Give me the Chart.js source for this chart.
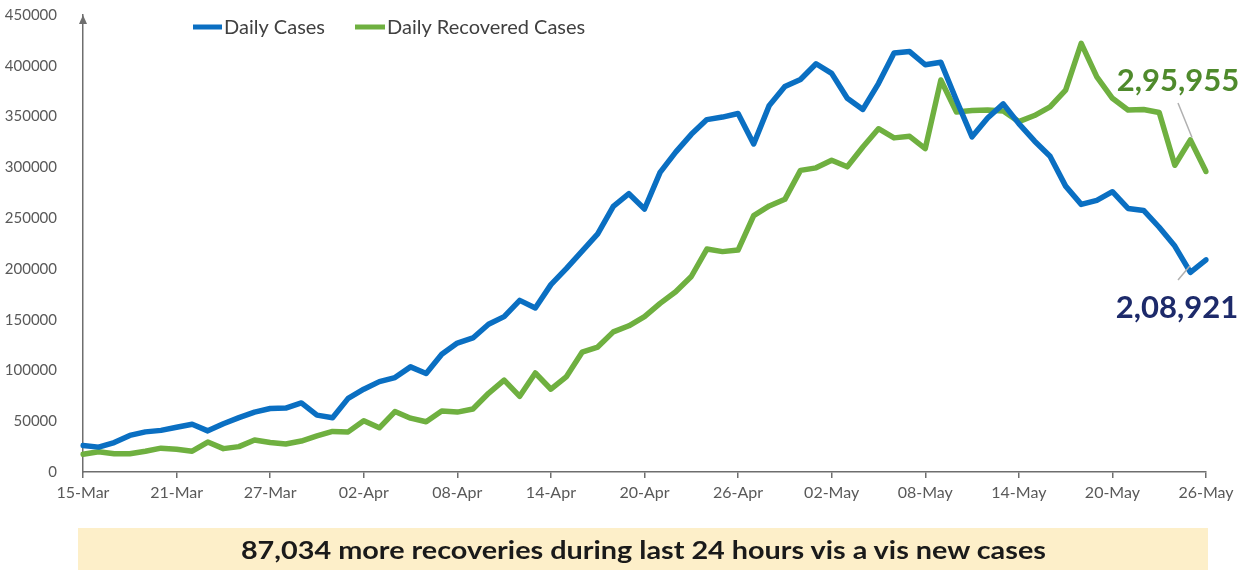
<!DOCTYPE html>
<html>
<head>
<meta charset="utf-8">
<script src="https://cdn.jsdelivr.net/npm/chart.js@4"></script>
<style>
  html, body { margin: 0; padding: 0; background: #fff; }
  #wrap { position: relative; width: 1254px; height: 572px; }
  #banner {
    position: absolute; left: 78px; top: 528px; width: 1130px; height: 42px;
    background: #fdefc9; font-family: Lato, sans-serif; font-weight: bold;
    font-size: 24px; color: #1a1a1a; text-align: center; line-height: 44px;
  }
  #banner span { display: inline-block; transform: scaleX(1.2); }
</style>
</head>
<body>
<div id="wrap">
  <canvas id="myChart" width="1254" height="572"></canvas>
  <div id="banner"><span>87,034 more recoveries during last 24 hours vis a vis new cases</span></div>
</div>
<script>
// dates 15-Mar .. 26-May
const months = [['Mar', 15, 31], ['Apr', 1, 30], ['May', 1, 26]];
const labels = [];
months.forEach(([m, from, to]) => {
    for (let d = from; d <= to; d++) labels.push(String(d).padStart(2, '0') + '-' + m);
});

// Daily Cases
const dailyCases = [
    26000, 24500, 29000, 36000, 39500, 41000, 44000, 47000, 40500, 47500, 53500, 59000, 62500, 63000, 68000, 56000, 53500,
    72500, 81500, 89000, 93000, 103500, 97000, 116000, 127000, 132000, 145500, 153000, 169000, 161500, 184500,
    200500, 217500, 234500, 261500, 274000, 259000, 295000, 315000, 332500, 347000, 349500, 353000, 323000, 361000, 379500, 386500,
    402000, 392500, 368000, 357000, 382500, 412500, 414000, 401000, 403500, 366000, 330000, 348500, 362500, 343000,
    326000, 311000, 281500, 263500, 267500, 276000, 259500, 257500, 241000, 222500, 196500, 208921
];

// Daily Recovered Cases
const dailyRecovered = [
    17500, 20000, 18000, 18000, 20500, 23500, 22500, 20500, 29500, 23000, 25000, 31500, 29000, 27500, 30500, 35500, 40000,
    39500, 50500, 43500, 59500, 53000, 49500, 60000, 59000, 62000, 77500, 90500, 74500, 97500, 81500,
    94000, 118000, 123000, 138000, 144000, 153000, 166000, 177500, 192500, 219500, 217000, 218500, 252500, 262000, 268500, 297000,
    299500, 307000, 300500, 320000, 338000, 329000, 330500, 318500, 386000, 354500, 356000, 356500, 355500, 345000,
    351000, 359500, 376000, 422000, 389000, 368000, 356500, 357000, 354000, 302000, 327000, 295955
];

const blue = '#0a6fc2';
const green = '#6fb040';
const axisColor = '#6e6e6e';
const font = 'Lato, sans-serif';

// легенда, стрелка оси и подписи последних значений
const extras = {
    id: 'extras',
    afterDraw(chart) {
        const ctx = chart.ctx;
        const x = chart.scales.x, y = chart.scales.y;
        ctx.save();

        // arrow on y axis
        ctx.fillStyle = axisColor;
        ctx.beginPath();
        ctx.moveTo(x.left, y.top);
        ctx.lineTo(x.left - 4, y.top + 9);
        ctx.lineTo(x.left + 4, y.top + 9);
        ctx.closePath();
        ctx.fill();

        // legend
        ctx.lineWidth = 5;
        ctx.lineCap = 'butt';
        ctx.font = '20px ' + font;
        ctx.textBaseline = 'middle';
        ctx.fillStyle = '#404040';
        ctx.strokeStyle = blue;
        ctx.beginPath(); ctx.moveTo(193, 27); ctx.lineTo(222, 27); ctx.stroke();
        ctx.fillText('Daily Cases', 224, 28);
        ctx.strokeStyle = green;
        ctx.beginPath(); ctx.moveTo(355, 27); ctx.lineTo(385, 27); ctx.stroke();
        ctx.fillText('Daily Recovered Cases', 387, 28);

        // last values
        const last = labels.length - 1;
        const lx = x.getPixelForValue(last);
        const gy = y.getPixelForValue(dailyRecovered[last]);
        const by = y.getPixelForValue(dailyCases[last]);

        ctx.strokeStyle = '#b0b0b0';
        ctx.lineWidth = 1.5;
        ctx.beginPath(); ctx.moveTo(1178, 103); ctx.lineTo(lx - 14, gy - 34); ctx.stroke();
        ctx.beginPath(); ctx.moveTo(1178, 280); ctx.lineTo(lx - 16, by + 6); ctx.stroke();

        ctx.font = 'bold 31px ' + font;
        ctx.textAlign = 'center';
        ctx.fillStyle = '#4f8a2c';
        ctx.fillText('2,95,955', 1178, 81);
        ctx.fillStyle = '#1d2a6a';
        ctx.fillText('2,08,921', 1177, 308);
        ctx.restore();
    }
};

new Chart(document.getElementById('myChart'), {
    type: 'line',
    data: {
        labels: labels,
        datasets: [
            { label: 'Daily Cases', data: dailyCases, borderColor: blue },
            { label: 'Daily Recovered Cases', data: dailyRecovered, borderColor: green }
        ]
    },
    options: {
        responsive: false,
        animation: false,
        layout: { padding: { top: 15, right: 48, bottom: 58, left: 0 } },
        elements: {
            line: { borderWidth: 5.5, tension: 0, borderJoinStyle: 'round', borderCapStyle: 'round' },
            point: { radius: 0 }
        },
        plugins: { legend: { display: false }, tooltip: { enabled: false } },
        scales: {
            x: {
                afterFit: (s) => { s.height = 42; },
                grid: { display: true, drawOnChartArea: false, drawTicks: true, tickLength: 6, color: axisColor, lineWidth: 1.5 },
                border: { display: true, color: axisColor, width: 1.5 },
                ticks: {
                    autoSkip: false, maxRotation: 0, padding: 5,
                    color: '#595959', font: { family: font, size: 16 },
                    callback: (v, i) => (i % 6 === 0 ? labels[i] : null)
                }
            },
            y: {
                min: 0, max: 450000,
                afterFit: (s) => { s.width = 83; s.paddingTop = 0; s.paddingBottom = 0; },
                grid: { display: false },
                border: { display: true, color: axisColor, width: 1.5 },
                ticks: {
                    stepSize: 50000, padding: 18,
                    color: '#595959', font: { family: font, size: 15 },
                    callback: (v) => String(v)
                }
            }
        }
    },
    plugins: [extras]
});
</script>
</body>
</html>
